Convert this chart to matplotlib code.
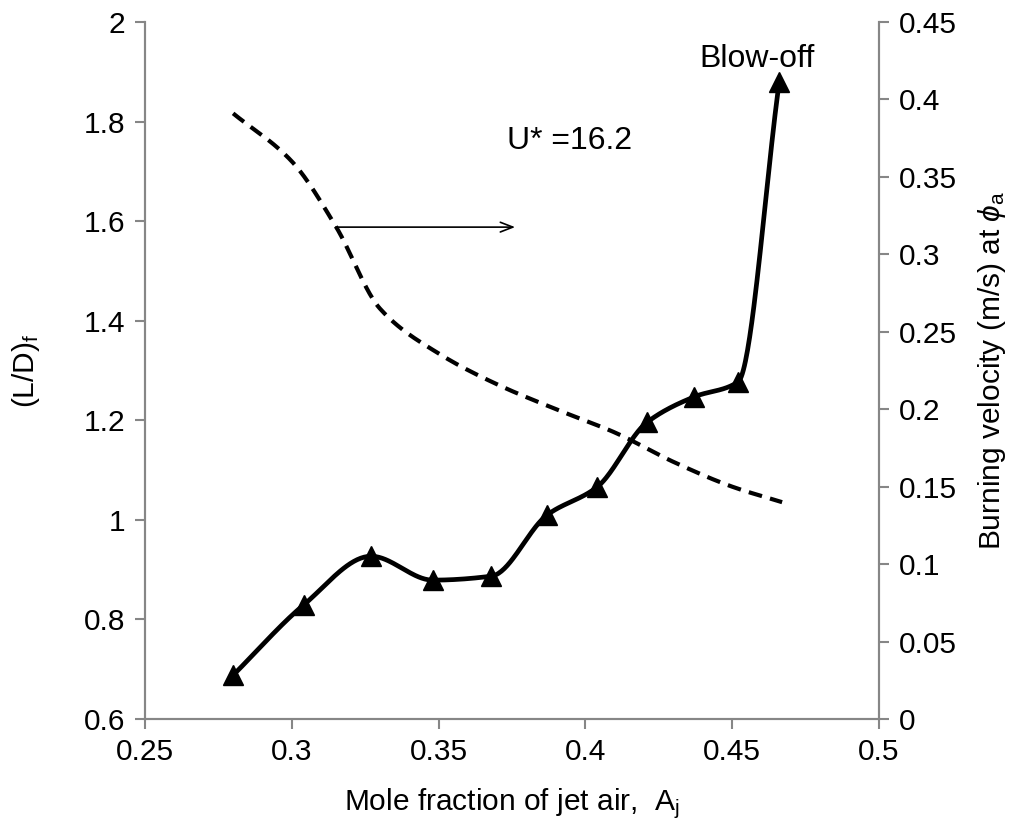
import numpy as np
import matplotlib
matplotlib.use("Agg")
import matplotlib.pyplot as plt

plt.rcParams["font.family"] = ["Liberation Sans", "DejaVu Sans"]
plt.rcParams["mathtext.fontset"] = "custom"
plt.rcParams["mathtext.rm"] = "Liberation Sans"
plt.rcParams["mathtext.it"] = "Liberation Sans:italic"

# (L/D)_f versus jet air mole fraction (left axis)
ld_x = [0.280, 0.304, 0.327, 0.348, 0.368, 0.387, 0.404, 0.421, 0.437, 0.452, 0.466]
ld_y = [0.688, 0.829, 0.927, 0.879, 0.887, 1.010, 1.066, 1.196, 1.247, 1.277, 1.879]

# burning velocity at phi_a (right axis)
su_x = [0.280, 0.300, 0.315, 0.330, 0.350, 0.370, 0.390, 0.410, 0.430, 0.450, 0.467]
su_y = [0.391, 0.360, 0.318, 0.265, 0.236, 0.216, 0.200, 0.185, 0.166, 0.150, 0.140]

x_ticks = [0.25, 0.3, 0.35, 0.4, 0.45, 0.5]
left_ticks = [0.6, 0.8, 1.0, 1.2, 1.4, 1.6, 1.8, 2.0]
right_ticks = [0, 0.05, 0.1, 0.15, 0.2, 0.25, 0.3, 0.35, 0.4, 0.45]

GRAY = "#868686"
FS = 21.5
FS_NOTE = 23


def smooth(xs, ys, n=40):
    # monotone cubic (Fritsch-Carlson) through the points, just for drawing the curve
    x = np.asarray(xs, float)
    y = np.asarray(ys, float)
    h = np.diff(x)
    d = np.diff(y) / h
    m = np.zeros_like(y)
    m[0], m[-1] = d[0], d[-1]
    for i in range(1, len(x) - 1):
        if d[i - 1] * d[i] > 0:
            w1 = 2 * h[i] + h[i - 1]
            w2 = h[i] + 2 * h[i - 1]
            m[i] = (w1 + w2) / (w1 / d[i - 1] + w2 / d[i])
    px, py = [], []
    for i in range(len(x) - 1):
        t = np.linspace(0, 1, n)
        h00 = 2 * t**3 - 3 * t**2 + 1
        h10 = t**3 - 2 * t**2 + t
        h01 = -2 * t**3 + 3 * t**2
        h11 = t**3 - t**2
        px.append(x[i] + t * h[i])
        py.append(h00 * y[i] + h10 * h[i] * m[i] + h01 * y[i + 1] + h11 * h[i] * m[i + 1])
    return np.concatenate(px), np.concatenate(py)


fig = plt.figure(figsize=(10.17, 8.30), dpi=100)
ax = fig.add_axes([0.1426, 0.1337, 0.7217, 0.8398])
ax2 = ax.twinx()

sx, sy = smooth(ld_x, ld_y)
ax.plot(sx, sy, color="black", lw=3.4, solid_capstyle="butt", zorder=3)
ax.plot(ld_x, ld_y, ls="none", marker="^", ms=14, color="black", zorder=4)

dx, dy = smooth(su_x, su_y)
ax2.plot(dx, dy, color="black", lw=3, ls=(0, (3.3, 2.0)), zorder=3)

ax.set_xlim(0.25, 0.5)
ax.set_ylim(0.6, 2.0)
ax2.set_ylim(0, 0.45)
ax.set_xticks(x_ticks)
ax.set_xticklabels([f"{v:g}" for v in x_ticks])
ax.set_yticks(left_ticks)
ax.set_yticklabels([f"{v:g}" for v in left_ticks])
ax2.set_yticks(right_ticks)
ax2.set_yticklabels([f"{v:g}" for v in right_ticks])

for a in (ax, ax2):
    for sp in a.spines.values():
        sp.set_color(GRAY)
        sp.set_linewidth(1.5)
    a.spines["top"].set_visible(False)
    a.tick_params(direction="out", length=7, width=1.5, color=GRAY, labelsize=FS, pad=7)

ax.set_xlabel("Mole fraction of jet air,  A$_\\mathrm{j}$", fontsize=FS, labelpad=14)
ax.set_ylabel("(L/D)$_\\mathrm{f}$", fontsize=FS, labelpad=30)
ax2.set_ylabel("Burning velocity (m/s) at $\\mathit{\\phi}_\\mathrm{a}$", fontsize=FS, labelpad=14)

ax.annotate("", xy=(0.377, 1.588), xytext=(0.314, 1.588),
            arrowprops=dict(arrowstyle="->,head_length=0.9,head_width=0.35", lw=1.2, color="black"))
ax.text(0.3733, 1.761, "U* =16.2", fontsize=FS_NOTE, va="center", ha="left")
ax.text(0.4583, 1.925, "Blow-off", fontsize=FS_NOTE, va="center", ha="center")

fig.savefig("out.png", dpi=100)
